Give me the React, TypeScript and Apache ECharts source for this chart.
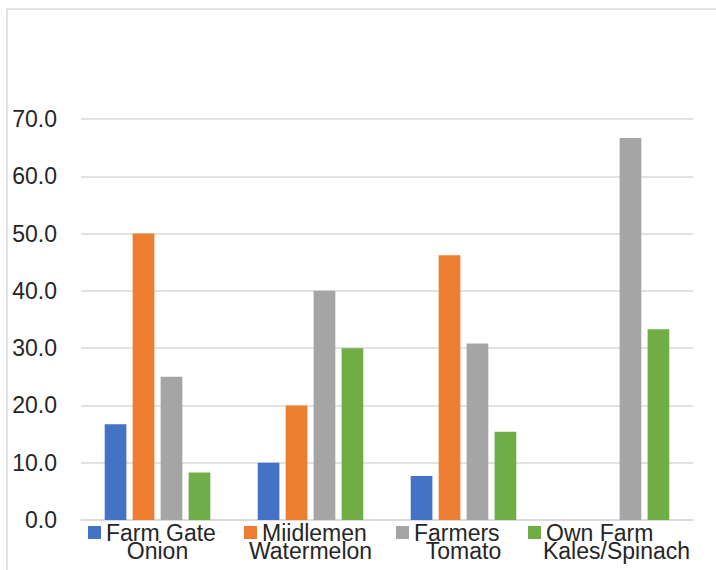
import React, { useEffect, useRef } from "react";
import * as echarts from "echarts";

const categories = ["Onion", "Watermelon", "Tomato", "Kales/Spinach"];
const seriesNames = ["Farm Gate", "Miidlemen", "Farmers", "Own Farm"];
const farmGate = [16.7, 10.0, 7.7, 0];
const middlemen = [50.0, 20.0, 46.2, 0];
const farmers = [25.0, 40.0, 30.8, 66.7];
const ownFarm = [8.3, 30.0, 15.4, 33.3];
const colors = ["#4472C4", "#ED7D31", "#A5A5A5", "#70AD47"];
const legendLefts = [88, 244, 396, 528];

const FONT = "'Liberation Sans', Arial, sans-serif";

export default function App() {
  const ref = useRef<HTMLDivElement>(null);
  useEffect(() => {
    if (!ref.current) return;
    const chart = echarts.init(ref.current, null, { renderer: "svg" });
    const values = [farmGate, middlemen, farmers, ownFarm];
    chart.setOption({
      animation: false,
      textStyle: { fontFamily: FONT },
      graphic: [
        {
          type: "rect",
          shape: { x: 7, y: 9, width: 800, height: 700 },
          style: { fill: "none", stroke: "#d9d9d9", lineWidth: 1.5 },
          silent: true,
        },
      ],
      grid: { left: 81, right: 23, top: 119, bottom: 50, containLabel: false },
      legend: seriesNames.map((n, i) => ({
        data: [n],
        left: legendLefts[i],
        top: 521,
        padding: 0,
        itemWidth: 13,
        itemHeight: 13,
        icon: "rect",
        textStyle: { fontSize: 23, color: "#262626", fontFamily: FONT, lineHeight: 16 },
      })),
      xAxis: {
        type: "category",
        data: categories,
        axisLine: { show: true, lineStyle: { color: "#d9d9d9", width: 1.5 } },
        axisTick: { show: false },
        axisLabel: {
          interval: 0,
          fontSize: 23,
          color: "#262626",
          margin: 23,
          lineHeight: 16,
          fontFamily: FONT,
        },
      },
      yAxis: {
        type: "value",
        min: 0,
        max: 70,
        interval: 10,
        axisLine: { show: false },
        axisTick: { show: false },
        splitLine: { lineStyle: { color: "#d9d9d9", width: 1.5 } },
        axisLabel: {
          fontSize: 23,
          color: "#262626",
          margin: 24,
          fontFamily: FONT,
          formatter: (v: number) => v.toFixed(1),
        },
      },
      series: seriesNames.map((n, i) => ({
        name: n,
        type: "bar",
        data: values[i],
        itemStyle: { color: colors[i] },
        barGap: "29%",
        barCategoryGap: "31%",
      })),
    });
    return () => chart.dispose();
  }, []);
  return (
    <div
      ref={ref}
      style={{ position: "absolute", left: 0, top: 0, width: 716, height: 570, background: "#fff" }}
    />
  );
}
